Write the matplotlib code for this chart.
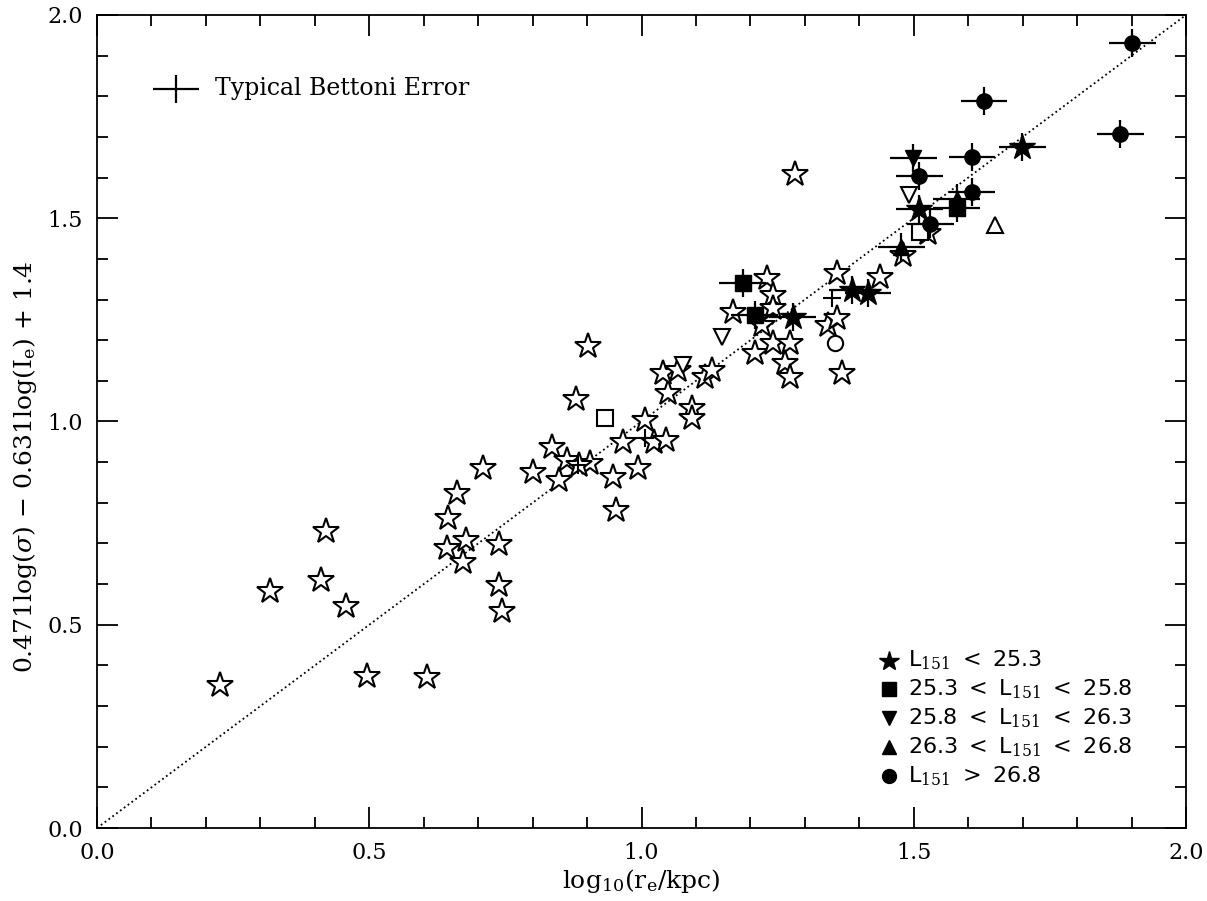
import numpy as np
import matplotlib
matplotlib.use("Agg")
import matplotlib.pyplot as plt
from matplotlib.ticker import MultipleLocator

plt.rcParams['font.family'] = ['DejaVu Serif']
plt.rcParams['mathtext.fontset'] = 'dejavuserif'

# --- data ---
open_star_x = [0.226, 0.318, 0.421, 0.411, 0.457, 0.496, 0.606, 0.709, 0.661, 0.645,
               0.678, 0.643, 0.672, 0.738, 0.738, 0.744, 0.801, 0.836, 0.849, 0.863,
               0.880, 0.902, 0.905, 0.885, 0.948, 0.966, 0.994, 0.953, 1.006, 1.023,
               1.045, 1.049, 1.040, 1.067, 1.093, 1.093, 1.117, 1.129, 1.168, 1.231,
               1.241, 1.241, 1.221, 1.208, 1.241, 1.273, 1.264, 1.273, 1.282, 1.343,
               1.359, 1.369, 1.359, 1.438, 1.480, 1.526]
open_star_y = [0.352, 0.583, 0.731, 0.610, 0.546, 0.374, 0.371, 0.886, 0.824, 0.763,
               0.708, 0.689, 0.654, 0.699, 0.598, 0.534, 0.876, 0.937, 0.856, 0.905,
               1.055, 1.186, 0.898, 0.893, 0.864, 0.950, 0.886, 0.782, 1.004, 0.950,
               0.955, 1.070, 1.119, 1.127, 1.033, 1.009, 1.109, 1.127, 1.269, 1.353,
               1.311, 1.279, 1.237, 1.168, 1.193, 1.193, 1.144, 1.109, 1.609, 1.237,
               1.255, 1.119, 1.365, 1.356, 1.410, 1.464]

open_dtri_x = [1.148, 1.076, 1.491]
open_dtri_y = [1.208, 1.139, 1.557]
open_sq_x = [0.933, 1.511]
open_sq_y = [1.009, 1.466]
open_utri_x = [1.649]
open_utri_y = [1.483]
open_circ_x = [1.355]
open_circ_y = [1.193]
plus_x = [1.350, 1.006, 0.883]
plus_y = [1.304, 0.959, 0.893]

# filled symbols: L151 bins
star_x = [1.278, 1.387, 1.416, 1.510, 1.699]
star_y = [1.257, 1.323, 1.316, 1.523, 1.675]
sq_x = [1.186, 1.208, 1.579]
sq_y = [1.341, 1.262, 1.525]
dtri_x = [1.499]
dtri_y = [1.648]
utri_x = [1.477, 1.579]
utri_y = [1.429, 1.548]
circ_x = [1.901, 1.629, 1.879, 1.607, 1.510, 1.607, 1.530]
circ_y = [1.931, 1.788, 1.707, 1.651, 1.604, 1.565, 1.486]

xerr = 0.043
yerr = 0.035

legend_labels = [r'L$_{151}$ $<$ 25.3',
                 r'25.3 $<$ L$_{151}$ $<$ 25.8',
                 r'25.8 $<$ L$_{151}$ $<$ 26.3',
                 r'26.3 $<$ L$_{151}$ $<$ 26.8',
                 r'L$_{151}$ $>$ 26.8']

fig = plt.figure(figsize=(12.07, 9.01), dpi=100)
ax = fig.add_axes([0.0804, 0.081, 0.9022, 0.9024])

# one-to-one line
ax.plot([0, 2], [0, 2], ':', color='k', lw=1.3)

ax.plot(open_star_x, open_star_y, '*', ms=19, mfc='white', mec='k', mew=1.5, ls='none')
ax.plot(open_dtri_x, open_dtri_y, 'v', ms=11, mfc='white', mec='k', mew=1.5, ls='none')
ax.plot(open_sq_x, open_sq_y, 's', ms=11, mfc='white', mec='k', mew=1.5, ls='none')
ax.plot(open_utri_x, open_utri_y, '^', ms=11, mfc='white', mec='k', mew=1.5, ls='none')
ax.plot(open_circ_x, open_circ_y, 'o', ms=11, mfc='white', mec='k', mew=1.5, ls='none')
ax.plot(plus_x, plus_y, '+', ms=13, mec='k', mew=1.5, ls='none')

# filled symbols with error bars
for xs, ys, m, s in [(star_x, star_y, '*', 19), (sq_x, sq_y, 's', 11),
                     (dtri_x, dtri_y, 'v', 11), (utri_x, utri_y, '^', 11),
                     (circ_x, circ_y, 'o', 11)]:
    ax.errorbar(xs, ys, xerr=xerr, yerr=yerr, fmt=m, ms=s, mfc='k', mec='k',
                ecolor='k', elinewidth=1.6, capsize=0)

# typical error
ax.errorbar([0.145], [1.818], xerr=xerr, yerr=yerr, fmt='none', ecolor='k',
            elinewidth=1.6, capsize=0)
ax.text(0.217, 1.818, 'Typical Bettoni Error', fontsize=17, va='center', ha='left')

# legend drawn by hand, IDL style
leg_markers = [('*', 15), ('s', 10), ('v', 10), ('^', 10), ('o', 10)]
for i, ((m, s), lab) in enumerate(zip(leg_markers, legend_labels)):
    yy = 0.206 - i * 0.0355
    ax.plot([0.727], [yy], m, ms=s, color='k', transform=ax.transAxes, clip_on=False)
    ax.text(0.745, yy, lab, fontsize=16, va='center', ha='left', transform=ax.transAxes,
            family=['DejaVu Sans'])

ax.set_xlim(0, 2)
ax.set_ylim(0, 2)
ax.xaxis.set_major_locator(MultipleLocator(0.5))
ax.xaxis.set_minor_locator(MultipleLocator(0.1))
ax.yaxis.set_major_locator(MultipleLocator(0.5))
ax.yaxis.set_minor_locator(MultipleLocator(0.1))
ax.xaxis.set_major_formatter(plt.FormatStrFormatter('%.1f'))
ax.yaxis.set_major_formatter(plt.FormatStrFormatter('%.1f'))
ax.tick_params(which='both', direction='in', top=True, right=True, width=1.3, labelsize=16)
ax.tick_params(which='major', length=15, pad=10)
ax.tick_params(which='minor', length=8)
for sp in ax.spines.values():
    sp.set_linewidth(1.3)

ax.set_xlabel(r'log$_{10}$(r$_{\rm e}$/kpc)', fontsize=18, labelpad=2)
ax.set_ylabel(r'0.471log($\sigma$) $-$ 0.631log(I$_{\rm e}$) + 1.4', fontsize=18)
ax.yaxis.set_label_coords(-0.053, 0.445)

fig.savefig('out.png', dpi=100)
